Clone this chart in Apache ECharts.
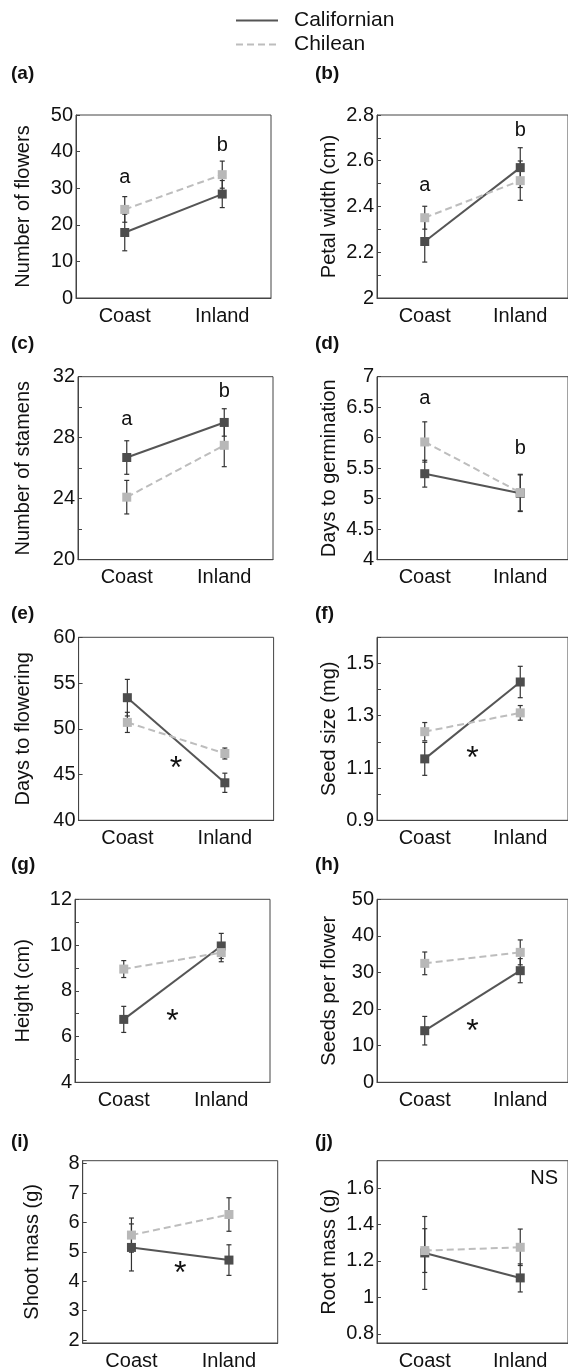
<!DOCTYPE html>
<html>
<head>
<meta charset="utf-8">
<script src="https://cdn.jsdelivr.net/npm/echarts@6.0.0/dist/echarts.min.js"></script>
<style>
  html, body { margin: 0; padding: 0; background: #fff; }
  #chart { width: 568px; height: 1371px; }
</style>
</head>
<body>
<div id="chart"></div>
<script>
const categories = ['Coast', 'Inland'];
const seriesNames = ['Californian', 'Chilean'];

// (a) number of flowers
const flowersCal = [17.9, 28.4];
const flowersCalErr = [5.0, 3.7];
const flowersChi = [24.2, 33.7];
const flowersChiErr = [3.5, 3.7];
const flowersTicks = [0, 10, 20, 30, 40, 50];
// (b) petal width
const petalCal = [2.247, 2.57];
const petalCalErr = [0.09, 0.087];
const petalChi = [2.351, 2.513];
const petalChiErr = [0.05, 0.086];
const petalTicks = [2, 2.2, 2.4, 2.6, 2.8];
// (c) stamens
const stamenCal = [26.7, 29.0];
const stamenCalErr = [1.1, 0.9];
const stamenChi = [24.1, 27.5];
const stamenChiErr = [1.1, 1.4];
const stamenTicks = [20, 24, 28, 32];
// (d) days to germination
const germCal = [5.41, 5.09];
const germCalErr = [0.22, 0.3];
const germChi = [5.93, 5.10];
const germChiErr = [0.33, 0.3];
const germTicks = [4, 4.5, 5, 5.5, 6, 6.5, 7];
// (e) days to flowering
const flowerDaysCal = [53.4, 44.1];
const flowerDaysCalErr = [2.0, 1.05];
const flowerDaysChi = [50.7, 47.3];
const flowerDaysChiErr = [1.1, 0.6];
const flowerDaysTicks = [40, 45, 50, 55, 60];
// (f) seed size
const seedSizeCal = [1.135, 1.429];
const seedSizeCalErr = [0.063, 0.06];
const seedSizeChi = [1.239, 1.311];
const seedSizeChiErr = [0.035, 0.028];
const seedSizeTicks = [0.9, 1.1, 1.3, 1.5];
// (g) height
const heightCal = [6.75, 9.96];
const heightCalErr = [0.57, 0.55];
const heightChi = [8.95, 9.67];
const heightChiErr = [0.37, 0.4];
const heightTicks = [4, 6, 8, 10, 12];
// (h) seeds per flower
const seedsCal = [14.1, 30.5];
const seedsCalErr = [3.9, 3.3];
const seedsChi = [32.5, 35.5];
const seedsChiErr = [3.1, 3.4];
const seedsTicks = [0, 10, 20, 30, 40, 50];
// (i) shoot mass
const shootCal = [5.15, 4.72];
const shootCalErr = [0.8, 0.52];
const shootChi = [5.57, 6.27];
const shootChiErr = [0.58, 0.57];
const shootTicks = [2, 3, 4, 5, 6, 7, 8];
// (j) root mass
const rootCal = [1.244, 1.107];
const rootCalErr = [0.2, 0.077];
const rootChi = [1.257, 1.275];
const rootChiErr = [0.12, 0.1];
const rootTicks = [0.8, 1, 1.2, 1.4, 1.6];

// annotations: [x (1 = Coast, 3 = Inland), y, text]
const flowersMarks = [[1, 33, 'a'], [3, 41.6, 'b']];
const petalMarks = [[1, 2.49, 'a'], [3, 2.733, 'b']];
const stamenMarks = [[1, 29.2, 'a'], [3, 31.0, 'b']];
const germMarks = [[1, 6.65, 'a'], [3, 5.82, 'b']];
const flowerDaysMarks = [[2, 45.6, '*']];
const seedSizeMarks = [[2, 1.133, '*']];
const heightMarks = [[2, 6.65, '*']];
const seedsMarks = [[2, 13.6, '*']];
const shootMarks = [[2, 4.25, '*']];
const rootMarks = [[3.5, 1.65, 'NS']];

const FONT = '"Liberation Sans", Arial, Helvetica, sans-serif';
const TXT = '#111';
const AX = '#444';
const DARK = '#555';
const LIGHT = '#bdbdbd';

const rowTop = [115, 376.7, 637.3, 899.3, 1160.7];
const titleY = [75, 345, 615, 866, 1143];

const panels = [
  { t: '(a)', name: 'Number of flowers', cal: flowersCal, calErr: flowersCalErr, chi: flowersChi, chiErr: flowersChiErr, marks: flowersMarks, labels: flowersTicks, min: 0, max: 50, step: 10, row: 0, left: 76, nameX: 22.5 },
  { t: '(b)', name: 'Petal width (cm)', cal: petalCal, calErr: petalCalErr, chi: petalChi, chiErr: petalChiErr, marks: petalMarks, labels: petalTicks, min: 2, max: 2.8, step: 0.1, row: 0, left: 377, nameX: 328 },
  { t: '(c)', name: 'Number of stamens', cal: stamenCal, calErr: stamenCalErr, chi: stamenChi, chiErr: stamenChiErr, marks: stamenMarks, labels: stamenTicks, min: 20, max: 32, step: 2, row: 1, left: 78, nameX: 22.5 },
  { t: '(d)', name: 'Days to germination', cal: germCal, calErr: germCalErr, chi: germChi, chiErr: germChiErr, marks: germMarks, labels: germTicks, min: 4, max: 7, step: 0.5, row: 1, left: 377, nameX: 328 },
  { t: '(e)', name: 'Days to flowering', cal: flowerDaysCal, calErr: flowerDaysCalErr, chi: flowerDaysChi, chiErr: flowerDaysChiErr, marks: flowerDaysMarks, labels: flowerDaysTicks, min: 40, max: 60, step: 5, row: 2, left: 78.6, nameX: 22.5 },
  { t: '(f)', name: 'Seed size (mg)', cal: seedSizeCal, calErr: seedSizeCalErr, chi: seedSizeChi, chiErr: seedSizeChiErr, marks: seedSizeMarks, labels: seedSizeTicks, min: 0.9, max: 1.6, step: 0.1, row: 2, left: 377, nameX: 328 },
  { t: '(g)', name: 'Height (cm)', cal: heightCal, calErr: heightCalErr, chi: heightChi, chiErr: heightChiErr, marks: heightMarks, labels: heightTicks, min: 4, max: 12, step: 1, row: 3, left: 75, nameX: 22 },
  { t: '(h)', name: 'Seeds per flower', cal: seedsCal, calErr: seedsCalErr, chi: seedsChi, chiErr: seedsChiErr, marks: seedsMarks, labels: seedsTicks, min: 0, max: 50, step: 10, row: 3, left: 377, nameX: 328 },
  { t: '(i)', name: 'Shoot mass (g)', cal: shootCal, calErr: shootCalErr, chi: shootChi, chiErr: shootChiErr, marks: shootMarks, labels: shootTicks, ticks: shootTicks, min: 1.9, max: 8.1, step: 1, row: 4, left: 82.7, nameX: 31 },
  { t: '(j)', name: 'Root mass (g)', cal: rootCal, calErr: rootCalErr, chi: rootChi, chiErr: rootChiErr, marks: rootMarks, labels: rootTicks, ticks: rootTicks, min: 0.75, max: 1.75, step: 0.2, row: 4, left: 377, nameX: 328 }
];

const catX = i => 2 * i + 1;

function renderErr(params, api) {
  const x = api.value(0), m = api.value(1), e = api.value(2);
  const hi = api.coord([x, m + e]);
  const lo = api.coord([x, m - e]);
  const cap = 2.5;
  const st = { stroke: '#333', lineWidth: 1.2 };
  return {
    type: 'group',
    children: [
      { type: 'line', shape: { x1: hi[0], y1: hi[1], x2: lo[0], y2: lo[1] }, style: st },
      { type: 'line', shape: { x1: hi[0] - cap, y1: hi[1], x2: hi[0] + cap, y2: hi[1] }, style: st },
      { type: 'line', shape: { x1: lo[0] - cap, y1: lo[1], x2: lo[0] + cap, y2: lo[1] }, style: st }
    ]
  };
}

const grid = [], xAxis = [], yAxis = [], series = [], title = [];

panels.forEach((p, k) => {
  grid.push({
    left: p.left, top: rowTop[p.row], width: 195, height: 183,
    show: true, borderColor: AX, borderWidth: 1, backgroundColor: 'transparent'
  });
  title.push({
    text: p.t, left: p.left < 200 ? 11 : 315, top: titleY[p.row] - 11, padding: 0,
    textStyle: { fontSize: 19, fontWeight: 'bold', color: TXT, fontFamily: FONT }
  });
  xAxis.push({
    gridIndex: k, type: 'value', min: 0, max: 4,
    axisLine: { lineStyle: { color: AX, width: 1 } },
    axisTick: { show: false },
    splitLine: { show: false },
    axisLabel: {
      customValues: [catX(0), catX(1)],
      formatter: v => categories[(v - 1) / 2],
      fontSize: 20, margin: 8, color: TXT, fontFamily: FONT
    }
  });
  const tick = { show: true, inside: true, length: 4, lineStyle: { color: AX, width: 1 } };
  if (p.ticks) tick.customValues = p.ticks;
  yAxis.push({
    gridIndex: k, type: 'value', min: p.min, max: p.max, interval: p.step,
    name: p.name, nameLocation: 'middle', nameGap: p.left - p.nameX - 11,
    nameTextStyle: { fontSize: 20, color: TXT, fontFamily: FONT },
    axisLine: { show: true, lineStyle: { color: AX, width: 1 } },
    axisTick: tick,
    splitLine: { show: false },
    axisLabel: {
      customValues: p.labels,
      formatter: v => String(+v.toFixed(2)),
      fontSize: 20, margin: 3, color: TXT, fontFamily: FONT
    }
  });
  series.push({
    type: 'custom', xAxisIndex: k, yAxisIndex: k, renderItem: renderErr, silent: true,
    encode: { x: 0, y: 1 }, z: 1,
    data: p.cal.map((v, i) => [catX(i), v, p.calErr[i]])
      .concat(p.chi.map((v, i) => [catX(i), v, p.chiErr[i]]))
  });
  series.push({
    name: seriesNames[0], type: 'line', xAxisIndex: k, yAxisIndex: k, z: 2,
    data: p.cal.map((v, i) => [catX(i), v]),
    symbol: 'rect', symbolSize: 9,
    itemStyle: { color: '#4d4d4d' },
    lineStyle: { color: DARK, width: 2 }
  });
  series.push({
    name: seriesNames[1], type: 'line', xAxisIndex: k, yAxisIndex: k, z: 3,
    data: p.chi.map((v, i) => [catX(i), v]),
    symbol: 'rect', symbolSize: 9,
    itemStyle: { color: '#b8b8b8' },
    lineStyle: { color: LIGHT, width: 2, type: [7, 4] }
  });
  series.push({
    type: 'scatter', xAxisIndex: k, yAxisIndex: k, z: 4, silent: true,
    data: p.marks, symbolSize: 1, itemStyle: { color: 'transparent', opacity: 1 },
    label: {
      show: true, position: 'inside',
      formatter: d => d.value[2],
      rich: {},
      fontSize: 20, color: TXT, fontFamily: FONT, textBorderWidth: 0
    },
    labelLayout: d => null
  });
});

// enlarge the asterisk glyph and drop it to the point (Arial draws "*" high in the line box)
series.forEach(s => {
  if (s.type === 'scatter') {
    s.data = s.data.map(d => d[2] === '*'
      ? { value: d, label: { fontSize: 32, offset: [0, 9] } }
      : d);
  }
});

const chart = echarts.init(document.getElementById('chart'), null, { renderer: 'canvas' });
chart.setOption({
  animation: false,
  backgroundColor: '#fff',
  title: title,
  legend: {
    data: seriesNames, orient: 'vertical', left: 230, top: 5,
    itemWidth: 42, itemHeight: 14, itemGap: 3,
    itemStyle: { opacity: 0 },
    textStyle: { fontSize: 21, color: TXT, fontFamily: FONT, padding: [0, 0, 0, 11] },
    selectedMode: false
  },
  grid: grid,
  xAxis: xAxis,
  yAxis: yAxis,
  series: series
});
</script>
</body>
</html>
